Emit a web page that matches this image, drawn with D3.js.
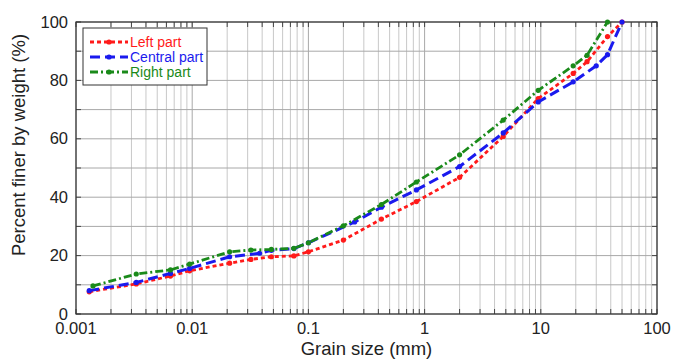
<!DOCTYPE html>
<html>
<head>
<meta charset="utf-8">
<script src="https://cdn.jsdelivr.net/npm/d3@7"></script>
<style>
  body { margin: 0; background: #fff; }
  text { font-family: "Liberation Sans", Arial, sans-serif; }
</style>
</head>
<body>
<svg id="chart"></svg>
<script>
const WIDTH = 673;
const HEIGHT = 359;
const MARGIN = {top: 22, right: 16, bottom: 45, left: 76};

// grain sizes (mm) and percent finer for each part
const leftSize = [0.0013, 0.0033, 0.0065, 0.0095, 0.021, 0.032, 0.048, 0.075, 0.1, 0.2, 0.425, 0.85, 2, 4.75, 9.5, 19, 25, 37.5, 50];
const leftPct = [7.6, 10.3, 13, 14.8, 17.4, 18.7, 19.6, 19.9, 21.3, 25.3, 32.5, 38.5, 46.8, 60.8, 73.8, 82.4, 86.4, 95, 100];

const centralSize = [0.0013, 0.0033, 0.0065, 0.0095, 0.021, 0.038, 0.048, 0.075, 0.1, 0.25, 0.425, 0.85, 2, 4.75, 9.5, 19, 30, 37.5, 50];
const centralPct = [8, 10.8, 13.9, 15.6, 19.6, 20.8, 21.8, 22.4, 24.4, 31.5, 36.6, 42.5, 50.5, 62, 72.6, 79.5, 85, 88.8, 100];

const rightSize = [0.0014, 0.0033, 0.0065, 0.0095, 0.021, 0.032, 0.048, 0.075, 0.1, 0.2, 0.425, 0.85, 2, 4.75, 9.5, 19, 25, 37.5];
const rightPct = [9.6, 13.7, 15.1, 17.1, 21.3, 21.9, 22.1, 22.5, 24.4, 30.2, 37.5, 45.2, 54.5, 66.4, 76.6, 85, 88.6, 100];

const xTicks = [0.001, 0.01, 0.1, 1, 10, 100];
const xTickLabels = ["0.001", "0.01", "0.1", "1", "10", "100"];
const yTicks = [0, 20, 40, 60, 80, 100];

const seriesNames = ["Left part", "Central part", "Right part"];

function main(){
    const svg = d3.select("#chart")
        .attr("width", WIDTH)
        .attr("height", HEIGHT);

    const w = WIDTH - MARGIN.left - MARGIN.right;
    const h = HEIGHT - MARGIN.top - MARGIN.bottom;

    const x = d3.scaleLog().domain([0.001, 100]).range([0, w]);
    const y = d3.scaleLinear().domain([0, 100]).range([h, 0]);

    const g = svg.append("g")
        .attr("transform", "translate(" + MARGIN.left + "," + MARGIN.top + ")");

    // minor log positions 1..9 per decade
    const minor = [];
    for (let e = -3; e < 2; e++) {
        for (let m = 1; m < 10; m++) minor.push(m * Math.pow(10, e));
    }
    minor.push(100);
    const yGrid = d3.range(0, 101, 10);

    g.selectAll(".vgrid").data(minor).enter().append("line")
        .attr("x1", d => x(d)).attr("x2", d => x(d))
        .attr("y1", 0).attr("y2", h)
        .attr("stroke", d => xTicks.includes(d) ? "#a8a8a8" : "#c8c8c8")
        .attr("stroke-width", 1);

    g.selectAll(".hgrid").data(yGrid).enter().append("line")
        .attr("x1", 0).attr("x2", w)
        .attr("y1", d => y(d)).attr("y2", d => y(d))
        .attr("stroke", "#a8a8a8")
        .attr("stroke-width", 1);

    // inward ticks on all four sides
    const tickLen = 5;
    g.selectAll(".tb").data(minor).enter().append("line")
        .attr("x1", d => x(d)).attr("x2", d => x(d))
        .attr("y1", h).attr("y2", h - tickLen)
        .attr("stroke", "#444");
    g.selectAll(".tt").data(minor).enter().append("line")
        .attr("x1", d => x(d)).attr("x2", d => x(d))
        .attr("y1", 0).attr("y2", tickLen)
        .attr("stroke", "#444");
    g.selectAll(".tl").data(yGrid).enter().append("line")
        .attr("x1", 0).attr("x2", tickLen)
        .attr("y1", d => y(d)).attr("y2", d => y(d))
        .attr("stroke", "#444");
    g.selectAll(".tr").data(yGrid).enter().append("line")
        .attr("x1", w).attr("x2", w - tickLen)
        .attr("y1", d => y(d)).attr("y2", d => y(d))
        .attr("stroke", "#444");

    g.append("rect")
        .attr("width", w).attr("height", h)
        .attr("fill", "none")
        .attr("stroke", "#333")
        .attr("stroke-width", 1.2);

    // tick labels
    g.selectAll(".xl").data(xTicks).enter().append("text")
        .attr("x", d => x(d)).attr("y", h + 19.5)
        .attr("text-anchor", "middle")
        .attr("font-size", 16.5)
        .attr("fill", "#222")
        .text((d, i) => xTickLabels[i]);
    g.selectAll(".yl").data(yTicks).enter().append("text")
        .attr("x", -8).attr("y", d => y(d) + 5.5)
        .attr("text-anchor", "end")
        .attr("font-size", 16.5)
        .attr("fill", "#222")
        .text(d => d);

    // axis titles
    svg.append("text")
        .attr("x", MARGIN.left + w / 2).attr("y", HEIGHT - 4)
        .attr("text-anchor", "middle")
        .attr("font-size", 18.5)
        .attr("fill", "#222")
        .text("Grain size (mm)");
    svg.append("text")
        .attr("transform", "translate(25,145) rotate(-90)")
        .attr("text-anchor", "middle")
        .attr("font-size", 18.5)
        .attr("fill", "#222")
        .text("Percent finer by weight (%)");

    const series = [
        {name: seriesNames[0], sizes: leftSize, pct: leftPct, color: "#ff1a1a", dash: "4,3", width: 2.8},
        {name: seriesNames[1], sizes: centralSize, pct: centralPct, color: "#1a1aee", dash: "10,5", width: 3},
        {name: seriesNames[2], sizes: rightSize, pct: rightPct, color: "#1a8a1a", dash: "8,3,2,3", width: 2.8}
    ];

    const line = d3.line().x(d => x(d[0])).y(d => y(d[1]));

    series.forEach(s => {
        const pts = s.sizes.map((v, i) => [v, s.pct[i]]);
        g.append("path")
            .datum(pts)
            .attr("d", line)
            .attr("fill", "none")
            .attr("stroke", s.color)
            .attr("stroke-width", s.width)
            .attr("stroke-dasharray", s.dash);
        g.selectAll(null).data(pts).enter().append("circle")
            .attr("cx", d => x(d[0])).attr("cy", d => y(d[1]))
            .attr("r", 2.6)
            .attr("fill", s.color);
    });

    // legend
    const leg = svg.append("g").attr("transform", "translate(83,28)");
    leg.append("rect")
        .attr("width", 124).attr("height", 57)
        .attr("fill", "#fff")
        .attr("stroke", "#333")
        .attr("stroke-width", 1);
    series.forEach((s, i) => {
        const ly = 14 + i * 15;
        leg.append("line")
            .attr("x1", 7).attr("x2", 45)
            .attr("y1", ly).attr("y2", ly)
            .attr("stroke", s.color)
            .attr("stroke-width", s.width)
            .attr("stroke-dasharray", s.dash);
        leg.append("circle")
            .attr("cx", 26).attr("cy", ly).attr("r", 2.6)
            .attr("fill", s.color);
        leg.append("text")
            .attr("x", 47).attr("y", ly + 5)
            .attr("font-size", 14)
            .attr("fill", s.color)
            .text(s.name);
    });
}

window.addEventListener("load", main);
</script>
</body>
</html>
